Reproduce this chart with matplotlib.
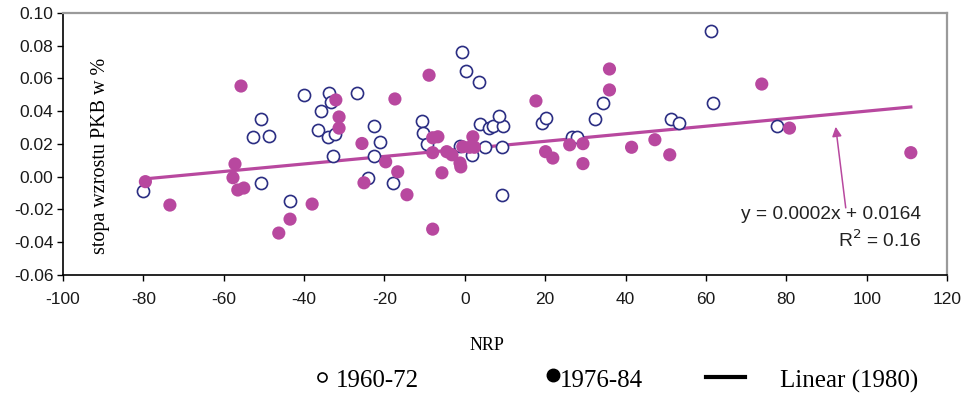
import numpy as np
import matplotlib
matplotlib.use("Agg")
import matplotlib.pyplot as plt
from matplotlib.lines import Line2D

# 1960-72 (open circles)
x_6072 = [-80, -52.7, -50.7, -48.8, -50.7, -43.5, -40, -36.5, -35.8, -33.8,
          -33.3, -34, -32.3, -32.8, -26.9, -22.6, -21, -22.6, -24, -17.9,
          -10.7, -10.4, -9.5, -0.7, 0.3, 3.5, -1.2, 1.7, 3.7, 6,
          6.9, 9.5, 8.5, 5, 9.2, 9.2, 19.2, 20.1, 26.6, 27.9,
          32.3, 34.3, 51.2, 53.2, 61.2, 61.7, 77.6]
y_6072 = [-0.009, 0.024, 0.035, 0.025, -0.004, -0.015, 0.050, 0.0285, 0.040, 0.051,
          0.0457, 0.0245, 0.026, 0.0125, 0.051, 0.031, 0.021, 0.0125, -0.001, -0.004,
          0.034, 0.027, 0.020, 0.076, 0.0646, 0.058, 0.019, 0.0134, 0.032, 0.030,
          0.031, 0.031, 0.037, 0.018, 0.018, -0.011, 0.033, 0.036, 0.0245, 0.024,
          0.035, 0.045, 0.035, 0.033, 0.089, 0.045, 0.031]

# 1976-84 (filled circles)
x_7684 = [-79.5, -73.4, -57.2, -57.7, -56.5, -55, -55.7, -46.3, -43.5, -38,
          -32.1, -31.3, -31.3, -25.6, -25.1, -19.7, -17.4, -16.7, -14.4, -8.9,
          -8, -6.7, -8, -4.5, -3.2, -5.7, -1.2, -1, -8, -0.5,
          1.2, 2.4, 2, 17.7, 20.1, 21.9, 26.1, 29.4, 29.4, 36,
          36, 41.5, 47.3, 51, 73.9, 80.8, 111]
y_7684 = [-0.003, -0.0173, 0.0078, -0.0006, -0.0081, -0.0069, 0.0554, -0.0344, -0.0259, -0.0167,
          0.0469, 0.0365, 0.0297, 0.0203, -0.0037, 0.0091, 0.0475, 0.003, -0.011, 0.062,
          0.0238, 0.0244, 0.0147, 0.0153, 0.0134, 0.0024, 0.0084, 0.006, -0.032, 0.0183,
          0.018, 0.018, 0.0244, 0.0463, 0.0153, 0.0114, 0.0195, 0.0202, 0.008, 0.0658,
          0.053, 0.018, 0.0226, 0.0134, 0.0566, 0.0297, 0.0147]

# linear trend (1980) as drawn
trend_x = [-80, 111]
trend_y = [-0.0014, 0.0426]

x_ticks = [-100, -80, -60, -40, -20, 0, 20, 40, 60, 80, 100, 120]
y_ticks = [-0.06, -0.04, -0.02, 0.00, 0.02, 0.04, 0.06, 0.08, 0.10]

magenta = "#B8489F"
navy = "#2B2E83"

fig = plt.figure(figsize=(9.68, 3.96), dpi=100)
ax = fig.add_axes([0.0651, 0.3056, 0.9132, 0.6616])

ax.plot(trend_x, trend_y, color=magenta, lw=2.3, zorder=2)
ax.scatter(x_6072, y_6072, s=76, facecolors="white", edgecolors=navy, linewidths=1.2, zorder=3)
ax.scatter(x_7684, y_7684, s=90, color=magenta, edgecolors="none", zorder=4)

ax.set_xlim(-100, 120)
ax.set_ylim(-0.06, 0.10)
ax.set_xticks(x_ticks)
ax.set_yticks(y_ticks)
ax.set_xticklabels([str(v) for v in x_ticks])
ax.set_yticklabels(["%.2f" % v for v in y_ticks])
ax.tick_params(direction="out", length=4, width=1, labelsize=12.5, labelcolor="#1a1a1a",
               pad=3)
for lab in ax.get_xticklabels() + ax.get_yticklabels():
    lab.set_family("Liberation Sans")
ax.xaxis.set_tick_params(pad=8)

ax.spines["left"].set_color("black")
ax.spines["bottom"].set_color("black")
ax.spines["left"].set_linewidth(1.2)
ax.spines["bottom"].set_linewidth(1.2)
ax.spines["top"].set_color("#9a9a9a")
ax.spines["right"].set_color("#9a9a9a")
ax.spines["top"].set_linewidth(1.6)
ax.spines["right"].set_linewidth(1.6)

ax.text(0.042, 0.455, "stopa wzrostu PKB w %", transform=ax.transAxes, rotation=90,
        ha="center", va="center", fontsize=14.5, family="Liberation Serif")

ax.annotate("", xy=(92.3, 0.0305), xytext=(94.8, -0.019),
            arrowprops=dict(arrowstyle="-|>", color=magenta, lw=1.1, mutation_scale=14,
                            shrinkA=0, shrinkB=0))
ax.text(113.5, -0.0228, "y = 0.0002x + 0.0164", ha="right", va="center",
        fontsize=13.8, family="Liberation Sans", color="#222222")
ax.text(113.5, -0.0388, "R$^2$ = 0.16", ha="right", va="center",
        fontsize=13.8, family="Liberation Sans", color="#222222")

# x axis title + legend under the plot
fig.text(0.503, 0.128, "NRP", ha="center", va="center", fontsize=13, family="Liberation Serif")

fig.add_artist(Line2D([0.3326], [0.049], marker="o", markersize=6.5, markerfacecolor="white",
                      markeredgecolor="black", markeredgewidth=1.2, transform=fig.transFigure))
fig.text(0.347, 0.037, "1960-72", ha="left", va="center", fontsize=18, family="Liberation Serif")
fig.add_artist(Line2D([0.571], [0.052], marker="o", markersize=9, color="black",
                      transform=fig.transFigure))
fig.text(0.5785, 0.037, "1976-84", ha="left", va="center", fontsize=18, family="Liberation Serif")
fig.add_artist(Line2D([0.729, 0.770], [0.048, 0.048], color="black", lw=3,
                      transform=fig.transFigure))
fig.text(0.806, 0.037, "Linear (1980)", ha="left", va="center", fontsize=18,
         family="Liberation Serif")

fig.savefig("out.png", dpi=100)
